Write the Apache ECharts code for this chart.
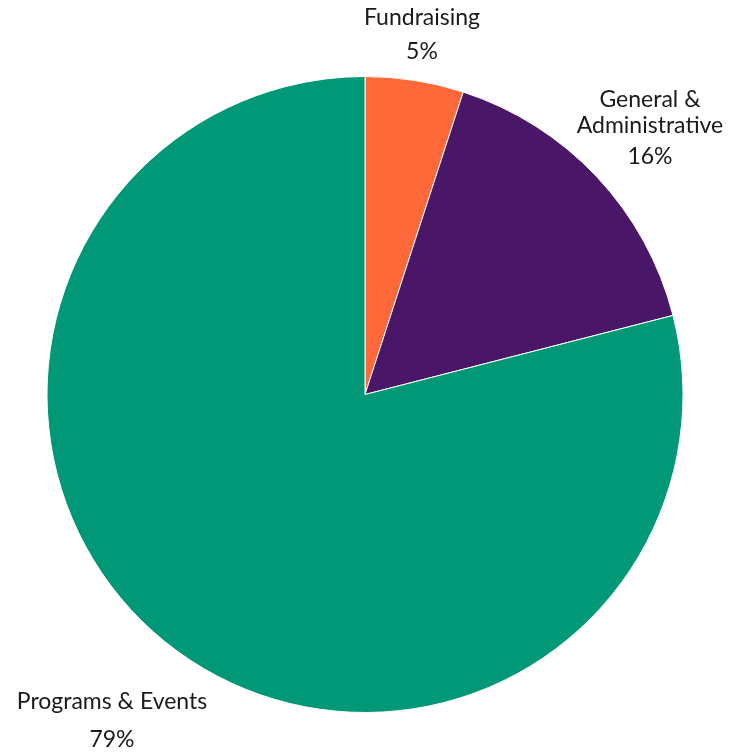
<!DOCTYPE html>
<html>
<head>
<meta charset="utf-8">
<script src="https://cdn.jsdelivr.net/npm/echarts@6/dist/echarts.min.js"></script>
<style>
  html, body { margin: 0; padding: 0; background: #fff; }
  #chart { width: 740px; height: 755px; }
</style>
</head>
<body>
<div id="chart"></div>
<script>
// categories and shares (percent)
var categories = ['Fundraising', 'General &\nAdministrative', 'Programs & Events'];
var values = [5, 16, 79];
var colors = ['#FF6838', '#4A1668', '#009877'];

// where each label block sits (top-centre), and its line heights
var labelSpots = [
  { x: 422, y: 1, lh: [34, 34] },
  { x: 650, y: 87, lh: [26, 36] },
  { x: 112, y: 683, lh: [38, 38] }
];

var chart = echarts.init(document.getElementById('chart'));

var data = categories.map(function (c, i) {
  return {
    name: c,
    value: values[i],
    itemStyle: { color: colors[i] },
    label: {
      rich: {
        n: { lineHeight: labelSpots[i].lh[0] },
        p: { lineHeight: labelSpots[i].lh[1] }
      }
    }
  };
});

var txt = { fontFamily: 'Lato', fontSize: 23, color: '#1a1a1a', align: 'center' };

chart.setOption({
  animation: false,
  series: [{
    type: 'pie',
    center: [365, 394.5],
    radius: 318,
    startAngle: 90,
    clockwise: true,
    data: data,
    itemStyle: { borderColor: '#fff', borderWidth: 1 },
    labelLine: { show: false },
    label: {
      show: true,
      position: 'outside',
      overflow: 'none',
      formatter: '{n|{b}}\n{p|{c}%}',
      fontFamily: 'Lato',
      fontSize: 23,
      color: '#1a1a1a',
      align: 'center',
      rich: { n: txt, p: txt }
    },
    labelLayout: function (p) {
      var s = labelSpots[p.dataIndex];
      return { x: s.x, y: s.y, align: 'center', verticalAlign: 'top' };
    }
  }]
});
</script>
</body>
</html>
